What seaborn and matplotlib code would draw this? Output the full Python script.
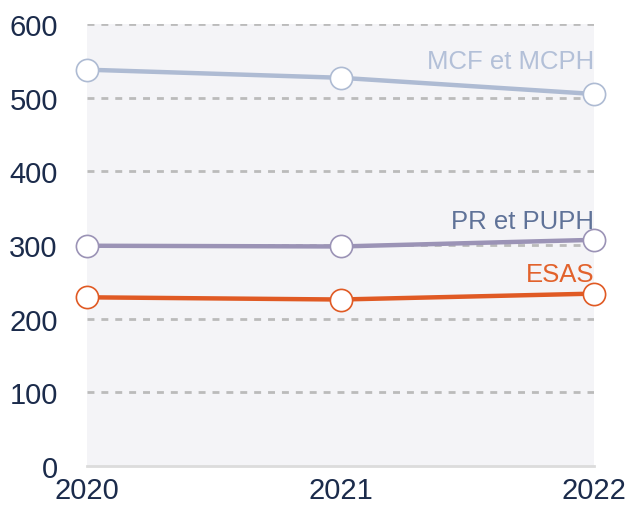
import matplotlib
matplotlib.use("Agg")
import matplotlib.pyplot as plt
import seaborn as sns
import pandas as pd

years = [2020, 2021, 2022]
mcf_mcph = [538, 527, 505]
pr_puph = [299, 298, 307]
esas = [229, 226, 234]

series_names = ["MCF et MCPH", "PR et PUPH", "ESAS"]
line_colors = ["#aebbd3", "#9b93b6", "#e05a24"]
label_colors = ["#b3c0d8", "#5f7298", "#e2622c"]
label_pix_y = [62, 222, 275]  # pixel y of labels, converted below

df = pd.DataFrame({
    "year": years * 3,
    "value": mcf_mcph + pr_puph + esas,
    "corps": [series_names[0]] * 3 + [series_names[1]] * 3 + [series_names[2]] * 3,
})

sns.set_style("white")
plt.rcParams["font.family"] = ["Liberation Sans", "DejaVu Sans"]

fig = plt.figure(figsize=(6.29, 5.10), dpi=100)
ax = fig.add_axes([87 / 629, 1 - 467 / 510, (594 - 87) / 629, (467 - 25) / 510])
ax.set_facecolor("#f4f4f7")

for y in [100, 200, 300, 400, 500, 600]:
    ax.axhline(y, color="#bbbbbb", lw=2, ls=(0, (2.5, 2.5)), zorder=1)

sns.lineplot(data=df, x="year", y="value", hue="corps", hue_order=series_names,
             palette=line_colors, linewidth=3.2, marker="o", markersize=16,
             markerfacecolor="white", markeredgewidth=1.2, legend=False,
             ax=ax, zorder=3)
for line, col in zip(ax.lines[-3:], line_colors):
    line.set_markeredgecolor(col)
    line.set_clip_on(False)

ax.set_xlim(2020, 2022)
ax.set_ylim(0, 600)
ax.set_xticks(years)
ax.set_yticks([0, 100, 200, 300, 400, 500, 600])
ax.tick_params(axis="both", length=0, colors="#1b2b4b")
ax.tick_params(axis="y", labelsize=21, pad=21)
ax.tick_params(axis="x", labelsize=21, pad=7)
ax.set_xlabel("")
ax.set_ylabel("")
for s in ["top", "left", "right"]:
    ax.spines[s].set_visible(False)
ax.spines["bottom"].set_color("#dcdcdc")
ax.spines["bottom"].set_linewidth(2)

for name, col, py in zip(series_names, label_colors, label_pix_y):
    yv = (467 - py) / (467 - 25) * 600
    ax.text(2022, yv, name, color=col, fontsize=18.5, ha="right", va="center", zorder=4)

fig.savefig("out.png", dpi=100)
